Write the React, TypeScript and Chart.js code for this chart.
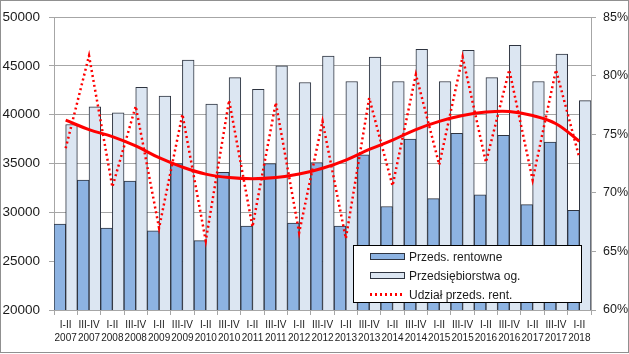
import React, { useEffect, useRef } from "react";
import { Chart, registerables } from "chart.js";

Chart.register(...registerables);

const periods = ["I-II","III-IV","I-II","III-IV","I-II","III-IV","I-II","III-IV","I-II","III-IV","I-II","III-IV","I-II","III-IV","I-II","III-IV","I-II","III-IV","I-II","III-IV","I-II","III-IV","I-II"];
const years = ["2007","2007","2008","2008","2009","2009","2010","2010","2011","2011","2012","2012","2013","2013","2014","2014","2015","2015","2016","2016","2017","2017","2018"];

const rentowne = [28800,33300,28400,33200,28100,35000,27100,34100,28600,35000,28900,35100,28600,35900,30600,37500,31400,38100,31800,37900,30800,37200,30200];
const ogolem = [39000,40800,40200,42800,41900,45600,41100,43800,42600,45000,43300,46000,43400,45900,43400,46700,43400,46600,43800,47100,43400,46200,41450];
const udzial = [73.8,81.7,70.5,77.4,67.0,76.7,65.9,77.9,67.1,77.7,66.6,76.1,66.1,78.1,70.6,80.1,72.4,81.6,72.6,80.5,71.1,80.5,73.0];
const trend = [76.2,75.4,74.8,74.0,73.0,72.2,71.6,71.3,71.2,71.3,71.6,72.1,72.8,73.7,74.5,75.4,76.1,76.6,76.9,76.95,76.6,75.9,74.4];

const leftTicks = { min: 20000, max: 50000, step: 5000 };
const rightTicks = { min: 60, max: 85, step: 5 };

const legendItems = ["Przeds. rentowne", "Przedsiębiorstwa og.", "Udział przeds. rent."];

const DARK = "#8DB3E2";
const LIGHT = "#DCE6F2";
const EDGE = "#2E3440";
const GRID = "#A6A6A6";
const TXT = "#1A1A1A";
const RED = "#FF0000";

export default function App() {
  const ref = useRef<HTMLCanvasElement>(null);

  useEffect(() => {
    const canvas = ref.current;
    if (!canvas) return;
    Chart.defaults.font.family = "'Liberation Sans', Arial, sans-serif";
    const chart = new Chart(canvas, {
      type: "bar",
      data: {
        labels: periods.map((p, i) => [p, years[i]]),
        datasets: [
          {
            type: "bar",
            label: legendItems[0],
            data: rentowne,
            backgroundColor: DARK,
            borderColor: EDGE,
            borderWidth: 1,
            borderSkipped: false,
            barPercentage: 1,
            categoryPercentage: 1,
            yAxisID: "y",
            order: 3,
          },
          {
            type: "bar",
            label: legendItems[1],
            data: ogolem,
            backgroundColor: LIGHT,
            borderColor: EDGE,
            borderWidth: 1,
            borderSkipped: false,
            barPercentage: 1,
            categoryPercentage: 1,
            yAxisID: "y",
            order: 3,
          },
          {
            type: "line",
            label: legendItems[2],
            data: udzial,
            borderColor: RED,
            borderWidth: 2.5,
            borderDash: [2, 3],
            pointRadius: 0,
            tension: 0,
            fill: false,
            yAxisID: "y1",
            order: 2,
          },
          {
            type: "line",
            label: "trend",
            data: trend,
            borderColor: RED,
            borderWidth: 3,
            pointRadius: 0,
            tension: 0.4,
            fill: false,
            yAxisID: "y1",
            order: 1,
          },
        ],
      },
      options: {
        responsive: false,
        animation: false,
        layout: { padding: { top: 15, left: 0, right: 0, bottom: 0 } },
        plugins: { legend: { display: false }, tooltip: { enabled: false } },
        scales: {
          x: {
            offset: true,
            grid: { offset: true, drawOnChartArea: false, drawTicks: true, tickLength: 5, color: GRID },
            border: { display: true, color: GRID },
            ticks: { autoSkip: false, maxRotation: 0, minRotation: 0, padding: 4, color: TXT, font: { size: 10, lineHeight: 1.3 } },
            afterFit: (s: any) => { s.height = 44; },
          },
          y: {
            position: "left",
            min: leftTicks.min,
            max: leftTicks.max,
            ticks: { stepSize: leftTicks.step, padding: 9, color: TXT, font: { size: 13.5 }, callback: (v: any) => String(v) },
            grid: { color: GRID, tickLength: 5 },
            border: { display: true, color: GRID },
            afterFit: (s: any) => { s.width = 54; },
          },
          y1: {
            position: "right",
            min: rightTicks.min,
            max: rightTicks.max,
            ticks: { stepSize: rightTicks.step, padding: 7, color: TXT, font: { size: 12.5 }, callback: (v: any) => v + "%" },
            grid: { drawOnChartArea: false, color: GRID, tickLength: 5 },
            border: { display: true, color: GRID },
            afterFit: (s: any) => { s.width = 38; },
          },
        },
      },
    } as any);
    return () => chart.destroy();
  }, []);

  const rowStyle: React.CSSProperties = { position: "absolute", left: 16, height: 19, display: "flex", alignItems: "center" };
  const textStyle: React.CSSProperties = { marginLeft: 4, fontSize: 12, color: TXT, fontFamily: "'Liberation Sans', Arial, sans-serif", whiteSpace: "nowrap" };

  return (
    <div style={{ position: "absolute", left: 0, top: 0, width: 629, height: 354, background: "#fff" }}>
      <canvas ref={ref} width={629} height={354} style={{ display: "block", width: 629, height: 354 }} />
      <div style={{ position: "absolute", left: 353, top: 245, width: 229, height: 58, boxSizing: "border-box", border: "1px solid #000", background: "#fff" }}>
        <div style={{ ...rowStyle, top: 1 }}>
          <div style={{ width: 35, height: 7, boxSizing: "border-box", border: `1px solid ${EDGE}`, background: DARK }} />
          <span style={textStyle}>{legendItems[0]}</span>
        </div>
        <div style={{ ...rowStyle, top: 20 }}>
          <div style={{ width: 35, height: 7, boxSizing: "border-box", border: `1px solid ${EDGE}`, background: LIGHT }} />
          <span style={textStyle}>{legendItems[1]}</span>
        </div>
        <div style={{ ...rowStyle, top: 39 }}>
          <div style={{ width: 35, height: 2.5, background: `repeating-linear-gradient(to right, ${RED} 0px, ${RED} 2px, transparent 2px, transparent 5px)` }} />
          <span style={textStyle}>{legendItems[2]}</span>
        </div>
      </div>
      <div style={{ position: "absolute", left: 0, top: 0, width: 629, height: 353, boxSizing: "border-box", border: "1px solid #909090", pointerEvents: "none" }} />
    </div>
  );
}
